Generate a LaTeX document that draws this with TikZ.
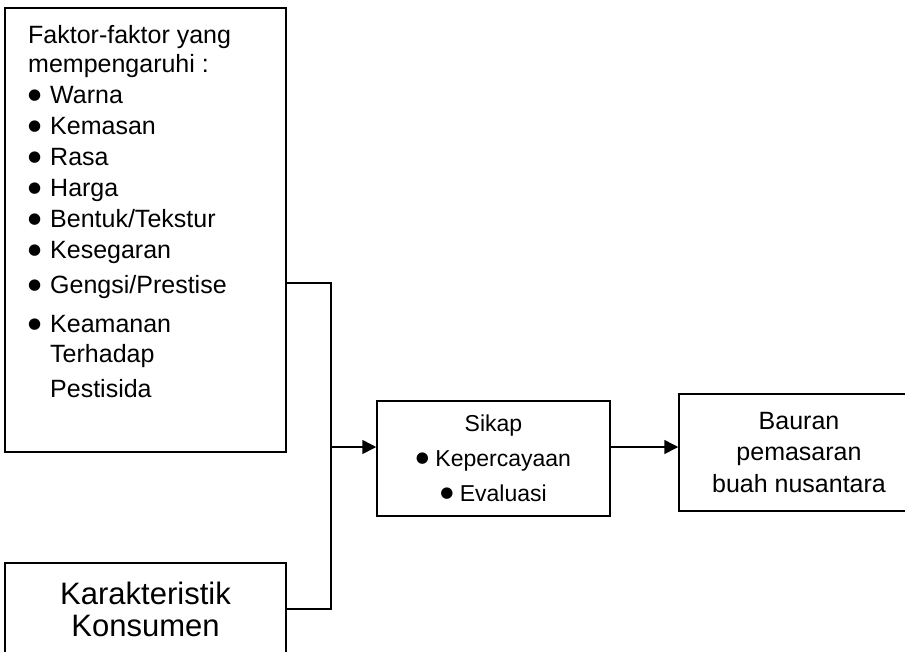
\documentclass[tikz,border=0pt]{standalone}
\usepackage{fontspec}
\setmainfont{Liberation Sans}
\newfontfamily\simbol{DejaVu Sans}
\usetikzlibrary{arrows.meta}
\newcommand{\butir}{\raisebox{4pt}{\simbol\fontsize{15}{15}\selectfont ●}}

\begin{document}
\begin{tikzpicture}[x = 1pt, y = -1pt,
        kotak/.style = {draw, line width = 1.5pt, inner sep = 0pt},
        garis/.style = {line width = 1.5pt},
        panah/.style = {garis, -{Triangle[length = 14pt, width = 14pt]}}]
        \path[use as bounding box, clip] (0, 0) rectangle (905, 651);

        \node[kotak, minimum width = 281pt, minimum height = 444pt](faktor) at (145.5, 230){};
        \node[anchor = north west, inner sep = 0pt, align = left, font = \fontsize{25}{31}\selectfont](faktorteks) at (28, 25.5){%
            Faktor-faktor yang\\[-2pt]
            mempengaruhi :\\
            \makebox[22pt][l]{\butir}Warna\\
            \makebox[22pt][l]{\butir}Kemasan\\
            \makebox[22pt][l]{\butir}Rasa\\
            \makebox[22pt][l]{\butir}Harga\\
            \makebox[22pt][l]{\butir}Bentuk/Tekstur\\
            \makebox[22pt][l]{\butir}Kesegaran\\[4pt]
            \makebox[22pt][l]{\butir}Gengsi/Prestise\\[8pt]
            \makebox[22pt][l]{\butir}Keamanan\\[-1pt]
            \hspace*{22pt}Terhadap\\[4pt]
            \hspace*{22pt}Pestisida};
        \node[kotak, minimum width = 281pt, minimum height = 92pt, align = center, font = \fontsize{31}{32}\selectfont](karakter) at (145.5, 609){Karakteristik\\ Konsumen};
        \node[kotak, minimum width = 233pt, minimum height = 115pt, align = center, font = \fontsize{23}{35}\selectfont](sikap) at (493.5, 458.5){Sikap\\ \butir\ Kepercayaan\\ \butir\ Evaluasi};
        \node[kotak, minimum width = 240pt, minimum height = 117pt, align = center, font = \fontsize{25}{31.5}\selectfont](bauran) at (799, 452.5){Bauran\\ pemasaran\\ buah nusantara};
        \coordinate (simpul) at (331, 447);

        \draw[garis] (faktor.east |- 0, 283) -| (simpul) |- (karakter.east);
        \draw[panah] (simpul) -- (sikap.west |- simpul);
        \draw[panah] (sikap.east |- simpul) -- (bauran.west |- simpul);
    \end{tikzpicture}
\end{document}
